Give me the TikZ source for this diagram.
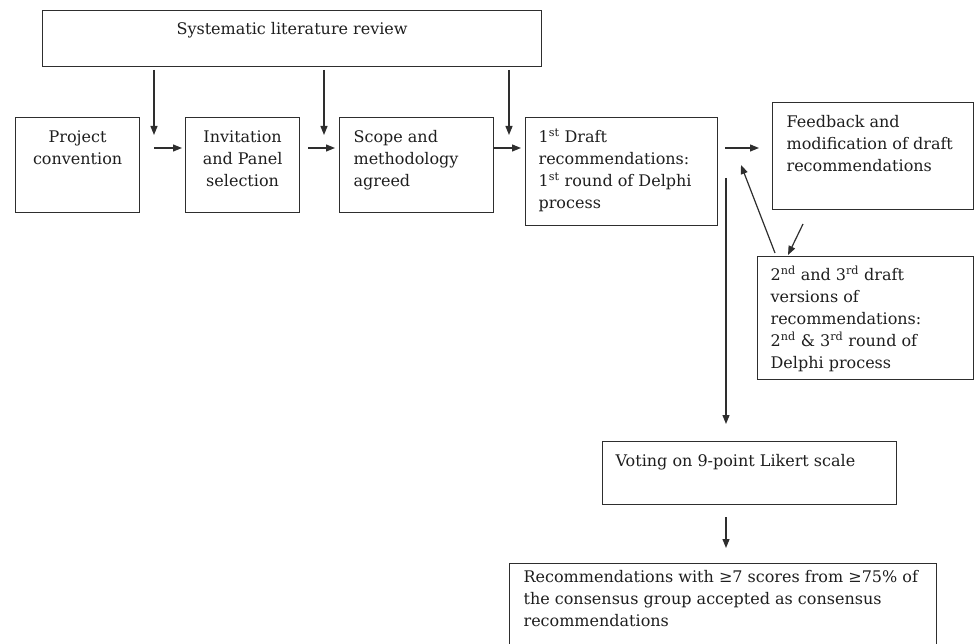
\documentclass[tikz,border=0pt]{standalone}
\usepackage{fontspec}
\setmainfont{DejaVu Serif}
\usetikzlibrary{arrows.meta}
\newcommand\bxt[5]{\parbox[c][#2pt][t]{#1pt}{#3\rule{0pt}{#4pt}#5}}
\definecolor{ln}{HTML}{2E2E2E}
\definecolor{tx}{HTML}{1E1E1E}
\tikzset{
  bx/.style={draw=ln, line width=1.2pt, inner xsep=#1, inner ysep=0pt, anchor=north west, text=tx, font=\fontsize{16}{22}\selectfont},
  bx/.default=13pt,
  arr/.style={draw=ln, line width=1.2pt, -{Triangle[length=9pt,width=7pt]}}
}
\begin{document}
\begin{tikzpicture}[x=1pt,y=-1pt]
\useasboundingbox (0,0) rectangle (974,644);
\clip (0,0) rectangle (974,644);
% boxes
\node[bx=5pt] (top) at (42,10) {\bxt{489}{56}{\centering}{24}{Systematic literature review}};
\node[bx=5pt] (pc) at (15,117) {\bxt{114}{95}{\centering}{25}{Project\\convention}};
\node[bx=5pt] (inv) at (185,117) {\bxt{104}{95}{\centering}{25}{Invitation\\and Panel\\selection}};
\node[bx=14pt] (scope) at (339,117) {\bxt{126}{95}{\raggedright}{25}{Scope and\\methodology\\agreed}};
\node[bx=13pt] (draft) at (525,117) {\bxt{166}{108}{\raggedright}{25}{1\textsuperscript{st} Draft\\recommendations:\\1\textsuperscript{st} round of Delphi\\process}};
\node[bx=14pt] (fb) at (772,102) {\bxt{173}{107}{\raggedright}{25}{Feedback and\\modification of draft\\recommendations}};
\node[bx=13pt] (v23) at (757,256) {\bxt{190}{123}{\raggedright}{24}{2\textsuperscript{nd} and 3\textsuperscript{rd} draft\\versions of\\recommendations:\\2\textsuperscript{nd} \& 3\textsuperscript{rd} round of\\Delphi process}};
\node[bx=13pt] (vote) at (602,441) {\bxt{268}{63}{\raggedright}{25}{Voting on 9-point Likert scale}};
\node[bx=14pt] (rec) at (509,563) {\bxt{399}{110}{\raggedright}{19}{Recommendations with ≥7 scores from ≥75\% of\\the consensus group accepted as consensus\\recommendations}};
% free ends of connectors
\coordinate (d1s) at (154,70);  \coordinate (d1e) at (154,135);
\coordinate (d2s) at (324,70);  \coordinate (d2e) at (324,135);
\coordinate (d3s) at (509,70);  \coordinate (d3e) at (509,135);
\coordinate (h1s) at (154,148); \coordinate (h1e) at (182,148);
\coordinate (h2s) at (308,148); \coordinate (h2e) at (335,148);
\coordinate (h3e) at (521,148);
\coordinate (h4s) at (725,148); \coordinate (h4e) at (759,148);
\coordinate (f1s) at (803,224); \coordinate (f1e) at (788,255);
\coordinate (f2s) at (775,253); \coordinate (f2e) at (741,165);
\coordinate (vs) at (726,178);  \coordinate (ve) at (726,424);
\coordinate (rs) at (726,517);  \coordinate (re) at (726,548);
% connectors
\draw[arr] (d1s) -- (d1e);
\draw[arr] (d2s) -- (d2e);
\draw[arr] (d3s) -- (d3e);
\draw[arr] (h1s) -- (h1e);
\draw[arr] (h2s) -- (h2e);
\draw[arr] (scope.east |- h3e) -- (h3e);
\draw[arr] (h4s) -- (h4e);
\draw[arr] (f1s) -- (f1e);
\draw[arr] (f2s) -- (f2e);
\draw[arr] (vs) -- (ve);
\draw[arr] (rs) -- (re);
\end{tikzpicture}
\end{document}
